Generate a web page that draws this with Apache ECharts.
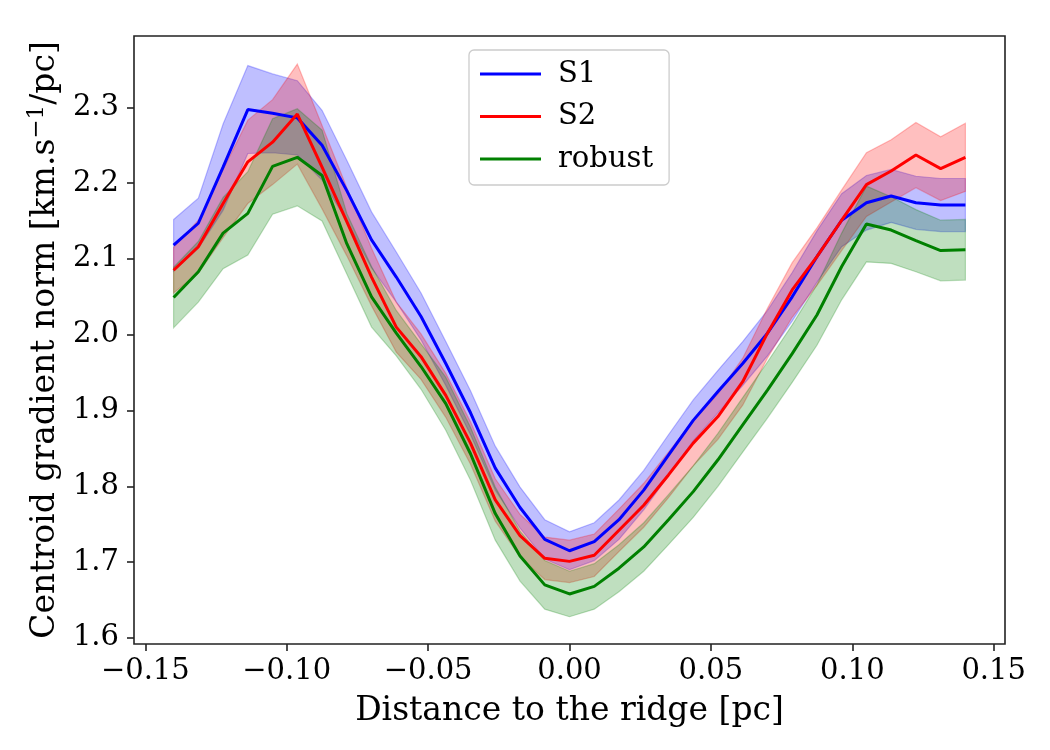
<!DOCTYPE html>
<html>
<head>
<meta charset="utf-8">
<script src="https://cdn.jsdelivr.net/npm/echarts@6/dist/echarts.min.js"></script>
<style>
  html, body { margin: 0; padding: 0; background: #fff; }
  #chart { width: 1050px; height: 750px; }
</style>
</head>
<body>
<div id="chart"></div>
<script>
// distance to the ridge [pc]
var distance = [-0.14, -0.13125, -0.1225, -0.11375, -0.105, -0.09625, -0.0875, -0.07875, -0.07,
  -0.06125, -0.0525, -0.04375, -0.035, -0.02625, -0.0175, -0.00875, 0, 0.00875, 0.0175,
  0.02625, 0.035, 0.04375, 0.0525, 0.06125, 0.07, 0.07875, 0.0875, 0.09625, 0.105,
  0.11375, 0.1225, 0.13125, 0.14];

// mean gradient norm and half width of the shaded band
var s1Mean = [2.118, 2.147, 2.221, 2.297, 2.292, 2.286, 2.250, 2.190, 2.125, 2.076, 2.024,
  1.962, 1.897, 1.824, 1.772, 1.730, 1.715, 1.727, 1.756, 1.795, 1.841, 1.887, 1.925,
  1.962, 2.002, 2.050, 2.103, 2.151, 2.174, 2.183, 2.174, 2.171, 2.171];
var s1Err = [0.034, 0.033, 0.057, 0.058, 0.052, 0.049, 0.046, 0.040, 0.037, 0.033, 0.031,
  0.029, 0.029, 0.029, 0.027, 0.026, 0.025, 0.025, 0.026, 0.026, 0.027, 0.027, 0.028,
  0.029, 0.030, 0.032, 0.034, 0.035, 0.036, 0.035, 0.035, 0.035, 0.035];

var s2Mean = [2.085, 2.116, 2.173, 2.228, 2.254, 2.291, 2.221, 2.149, 2.076, 2.010, 1.971,
  1.920, 1.857, 1.782, 1.735, 1.705, 1.701, 1.709, 1.742, 1.775, 1.815, 1.857, 1.892,
  1.938, 2.002, 2.059, 2.103, 2.151, 2.198, 2.216, 2.237, 2.219, 2.234];
var s2Err = [0.030, 0.035, 0.045, 0.055, 0.056, 0.066, 0.055, 0.045, 0.038, 0.033, 0.030,
  0.029, 0.028, 0.028, 0.028, 0.028, 0.028, 0.028, 0.028, 0.029, 0.030, 0.030, 0.030,
  0.031, 0.033, 0.036, 0.038, 0.040, 0.042, 0.041, 0.043, 0.042, 0.045];

var robustMean = [2.049, 2.083, 2.134, 2.160, 2.222, 2.234, 2.210, 2.120, 2.050, 2.002, 1.958,
  1.909, 1.843, 1.764, 1.708, 1.670, 1.658, 1.668, 1.692, 1.720, 1.756, 1.793, 1.835,
  1.881, 1.927, 1.975, 2.026, 2.090, 2.146, 2.138, 2.124, 2.111, 2.112];
var robustErr = [0.040, 0.040, 0.047, 0.055, 0.063, 0.064, 0.060, 0.040, 0.040, 0.030, 0.030,
  0.035, 0.035, 0.035, 0.033, 0.032, 0.030, 0.030, 0.031, 0.032, 0.033, 0.034, 0.035,
  0.036, 0.037, 0.038, 0.040, 0.044, 0.050, 0.044, 0.041, 0.040, 0.040];

var FONT = 'DejaVu Serif';

function pairs(ys) {
  return distance.map(function (x, i) { return [x, ys[i]]; });
}

/**
 * shaded band mean +/- err, drawn as one polygon through the axis scales
 */
function bandSeries(key, mean, err, rgb) {
  var rows = distance.map(function (x, i) { return [x, mean[i] - err[i], mean[i] + err[i]]; });
  var fill = 'rgba(' + rgb + ',0.25)';
  return {
    name: key + '_band', type: 'custom', data: rows, clip: true, silent: true, z: 1,
    encode: { x: 0, y: [1, 2] },
    renderItem: function (params, api) {
      if (params.dataIndex !== 0) return;
      var pts = [];
      rows.forEach(function (r) { pts.push(api.coord([r[0], r[2]])); });
      for (var i = rows.length - 1; i >= 0; i--) pts.push(api.coord([rows[i][0], rows[i][1]]));
      return {
        type: 'polygon',
        shape: { points: pts },
        style: { fill: fill, stroke: fill, lineWidth: 1.2 }
      };
    }
  };
}

function meanSeries(name, mean, color, z) {
  return {
    name: name, type: 'line', data: pairs(mean), symbol: 'none',
    lineStyle: { color: color, width: 3 }, itemStyle: { color: color }, z: z
  };
}

var chart = echarts.init(document.getElementById('chart'));

var tickStyle = { show: true, inside: false, length: 7, lineStyle: { color: '#222', width: 1.6 } };

var option = {
  animation: false,
  backgroundColor: '#fff',
  grid: { left: 134, top: 36, right: 45, bottom: 106, show: true, borderColor: '#222', borderWidth: 1.6,
    outerBoundsMode: 'none' },
  legend: {
    data: ['S1', 'S2', 'robust'],
    orient: 'vertical', left: 469, top: 50,
    padding: [9, 16, 11, 11],
    icon: 'rect', itemWidth: 61, itemHeight: 3, itemGap: 12.5,
    backgroundColor: 'rgba(255,255,255,0.8)', borderColor: '#cccccc', borderWidth: 1.3, borderRadius: 5,
    textStyle: { fontFamily: FONT, fontSize: 29, color: '#000', lineHeight: 30, padding: [0, 0, 0, 12] }
  },
  xAxis: {
    type: 'value', min: -0.154, max: 0.154, splitNumber: 6,
    name: 'Distance to the ridge [pc]', nameLocation: 'middle', nameGap: 51,
    nameTextStyle: { fontFamily: FONT, fontSize: 33, color: '#000' },
    axisLine: { show: false, onZero: false },
    axisTick: tickStyle,
    splitLine: { show: false },
    axisLabel: {
      fontFamily: FONT, fontSize: 29, color: '#000', margin: 13,
      showMinLabel: false, showMaxLabel: false,
      formatter: function (v) {
        if (Math.abs(v) < 1e-9) return '0.00';
        return (v < 0 ? '\u2212' : '') + Math.abs(v).toFixed(2);
      }
    }
  },
  yAxis: {
    type: 'value', min: 1.592, max: 2.394, splitNumber: 8,
    name: 'Centroid gradient norm [km.s{sup|\u22121}/pc]', nameLocation: 'middle', nameGap: 68,
    nameTextStyle: {
      fontFamily: FONT, fontSize: 33, color: '#000',
      rich: { sup: { fontFamily: FONT, fontSize: 23, color: '#000', padding: [0, 0, 16, 0] } }
    },
    axisLine: { show: false, onZero: false },
    axisTick: tickStyle,
    splitLine: { show: false },
    axisLabel: {
      fontFamily: FONT, fontSize: 29, color: '#000', margin: 15,
      showMinLabel: false, showMaxLabel: false,
      formatter: function (v) { return v.toFixed(1); }
    }
  },
  series: [
    bandSeries('S1', s1Mean, s1Err, '0,0,255'),
    bandSeries('S2', s2Mean, s2Err, '255,0,0'),
    bandSeries('robust', robustMean, robustErr, '0,128,0'),
    meanSeries('S1', s1Mean, '#0000ff', 3),
    meanSeries('S2', s2Mean, '#ff0000', 4),
    meanSeries('robust', robustMean, '#008000', 5)
  ]
};

chart.setOption(option);
</script>
</body>
</html>
